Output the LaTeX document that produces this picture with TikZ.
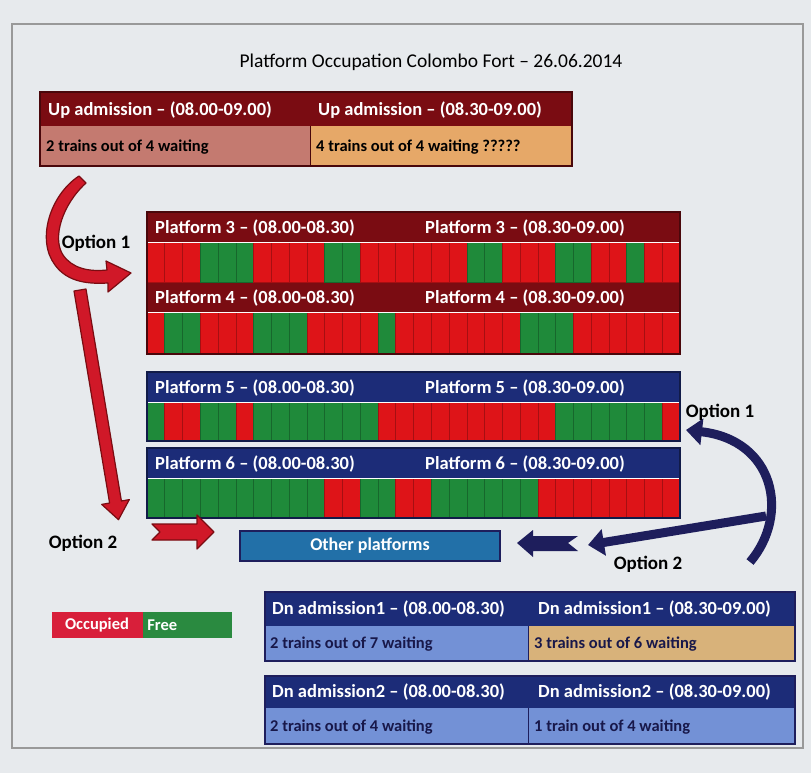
\documentclass[tikz,border=0pt]{standalone}
\usepackage{fontspec}
\setmainfont{Carlito}
\usepackage{tikz}
\usetikzlibrary{positioning, calc, arrows.meta}
\definecolor{sfondo}{HTML}{E7EAED}
\definecolor{rossoscuro}{HTML}{7A0C12}
\definecolor{bluscuro}{HTML}{1C2C78}
\definecolor{cellR}{HTML}{DE1418}
\definecolor{cellG}{HTML}{1F8A3A}
\definecolor{rosa}{HTML}{C47A70}
\definecolor{arancio}{HTML}{E6A868}
\definecolor{celeste}{HTML}{7391D6}
\definecolor{sabbia}{HTML}{D8B27A}
\definecolor{bluastro}{HTML}{2270A8}
\definecolor{navy}{HTML}{1E1E5C}
\definecolor{rossofr}{HTML}{D01828}
\definecolor{occ}{HTML}{D81F3A}
\definecolor{lib}{HTML}{2A8A40}

\begin{document}
\begin{tikzpicture}[x=1pt, y=-1pt,
    intest/.style={text=white, font=\fontsize{18.5}{20}\selectfont\bfseries, anchor=west, inner sep=0pt},
    testo/.style={font=\fontsize{16.5}{18}\selectfont\bfseries, anchor=west, inner sep=0pt},
    etich/.style={font=\fontsize{19}{20}\selectfont\bfseries, inner sep=0pt},
    freccia/.style={fill=rossofr, draw=rossoscuro, line width=1.2pt, line join=round}]
    % Parametri
    \pgfmathsetmacro{\xs}{147}
    \pgfmathsetmacro{\xd}{680}
    \pgfmathsetmacro{\cw}{(\xd-\xs)/30}
    % Sfondo
    \fill[sfondo] (0,0) rectangle (811,773);
    \draw[gray!80, line width=1.5pt] (12,24) rectangle (803,748);
    \node[font=\fontsize{19.5}{22}\selectfont] (titolo) at (431,62) {Platform Occupation Colombo Fort – 26.06.2014};
    % Up admission
    \fill[rossoscuro] (40,92) rectangle (572,126);
    \fill[rosa] (40,126) rectangle (310,166);
    \fill[arancio] (310,126) rectangle (572,166);
    \draw[rossoscuro!60!black] (310,126) -- (310,166);
    \draw[rossoscuro!60!black, line width=1.5pt] (40,92) rectangle (572,166);
    \node[intest] (up1) at (48,110) {Up admission – (08.00-09.00)};
    \node[intest] (up2) at (318,110) {Up admission – (08.30-09.00)};
    \node[testo] (upw1) at (46,147) {2 trains out of 4 waiting};
    \node[testo] (upw2) at (316,147) {4 trains out of 4 waiting ?????};
    % Piattaforme 3 e 4
    \fill[rossoscuro] (\xs,212) rectangle (\xd,242);
    \fill[rossoscuro] (\xs,282) rectangle (\xd,312);
    \foreach \c [count=\i] in {R,R,R,G,G,G,R,R,R,R,G,G,R,R,R,R,R,R,G,G,R,R,R,G,G,R,R,G,R,R}{
        \filldraw[fill=cell\c, draw=cell\c!75!black, line width=0.6pt] ({\xs+(\i-1)*\cw},242) rectangle ({\xs+\i*\cw},282);
    }
    \foreach \c [count=\i] in {R,G,G,R,R,R,G,G,G,R,R,R,R,G,R,R,R,R,R,R,R,G,G,G,R,R,R,R,R,R}{
        \filldraw[fill=cell\c, draw=cell\c!75!black, line width=0.6pt] ({\xs+(\i-1)*\cw},312) rectangle ({\xs+\i*\cw},354);
    }
    \draw[white, line width=1pt] (\xs,242) -- (\xd,242) (\xs,312) -- (\xd,312);
    \draw[rossoscuro!60!black, line width=1.5pt] (\xs,212) rectangle (\xd,354);
    \node[intest] (p3a) at (155,228) {Platform 3 – (08.00-08.30)};
    \node[intest] (p3b) at (425,228) {Platform 3 – (08.30-09.00)};
    \node[intest] (p4a) at (155,298) {Platform 4 – (08.00-08.30)};
    \node[intest] (p4b) at (425,298) {Platform 4 – (08.30-09.00)};
    % Piattaforme 5 e 6
    \fill[bluscuro] (\xs,372) rectangle (\xd,402);
    \fill[bluscuro] (\xs,448) rectangle (\xd,478);
    \foreach \c [count=\i] in {G,R,R,G,G,R,G,G,G,G,G,G,G,R,R,R,R,R,R,R,R,R,R,G,G,G,G,G,G,R}{
        \filldraw[fill=cell\c, draw=cell\c!75!black, line width=0.6pt] ({\xs+(\i-1)*\cw},402) rectangle ({\xs+\i*\cw},441);
    }
    \foreach \c [count=\i] in {G,G,G,G,G,G,G,G,G,G,R,R,G,G,R,R,G,G,G,G,G,G,R,R,R,R,R,R,R,R}{
        \filldraw[fill=cell\c, draw=cell\c!75!black, line width=0.6pt] ({\xs+(\i-1)*\cw},478) rectangle ({\xs+\i*\cw},518);
    }
    \draw[white, line width=1pt] (\xs,402) -- (\xd,402) (\xs,478) -- (\xd,478);
    \draw[bluscuro!60!black, line width=1.5pt] (\xs,372) rectangle (\xd,441);
    \draw[bluscuro!60!black, line width=1.5pt] (\xs,448) rectangle (\xd,518);
    \node[intest] (p5a) at (155,388) {Platform 5 – (08.00-08.30)};
    \node[intest] (p5b) at (425,388) {Platform 5 – (08.30-09.00)};
    \node[intest] (p6a) at (155,464) {Platform 6 – (08.00-08.30)};
    \node[intest] (p6b) at (425,464) {Platform 6 – (08.30-09.00)};
    % Altre piattaforme
    \node[draw=navy, line width=1.2pt, fill=bluastro, minimum width=260pt, minimum height=30pt, text=white,
          font=\fontsize{18}{20}\selectfont\bfseries] (altre) at (370,546) {Other platforms};
    % Legenda
    \node[fill=occ, minimum width=91pt, minimum height=26pt, inner sep=0pt, text=white, font=\fontsize{16.5}{18}\selectfont\bfseries] (occupato) at (97,625) {Occupied};
    \node[fill=lib, right=0pt of occupato, minimum height=26pt, text width=80pt, inner xsep=4.5pt, inner ysep=0pt, text=white, font=\fontsize{16.5}{18}\selectfont\bfseries] (libero) {Free};
    % Dn admission
    \fill[bluscuro] (265,592) rectangle (795,626);
    \fill[celeste] (265,626) rectangle (528,661);
    \fill[sabbia] (528,626) rectangle (795,661);
    \draw[navy] (528,626) -- (528,661);
    \draw[navy, line width=1.5pt] (265,592) rectangle (795,661);
    \node[intest] (dn1a) at (272,609) {Dn admission1 – (08.00-08.30)};
    \node[intest] (dn1b) at (538,609) {Dn admission1 – (08.30-09.00)};
    \node[testo, text=navy!80!black] (dnw1a) at (270,644) {2 trains out of 7 waiting};
    \node[testo, text=navy!80!black] (dnw1b) at (534,644) {3 trains out of 6 waiting};
    \fill[bluscuro] (265,676) rectangle (795,708);
    \fill[celeste] (265,708) rectangle (795,744);
    \draw[navy] (528,708) -- (528,744);
    \draw[navy, line width=1.5pt] (265,676) rectangle (795,744);
    \node[intest] (dn2a) at (272,692) {Dn admission2 – (08.00-08.30)};
    \node[intest] (dn2b) at (538,692) {Dn admission2 – (08.30-09.00)};
    \node[testo, text=navy!80!black] (dnw2a) at (270,727) {2 trains out of 4 waiting};
    \node[testo, text=navy!80!black] (dnw2b) at (534,727) {1 train out of 4 waiting};
    % Frecce rosse
    \filldraw[freccia] (79,176) .. controls (50,195) and (36,240) .. (55,265)
        .. controls (68,283) and (90,284) .. (108,283) -- (108,292) -- (131,273) -- (106,261) -- (107,270)
        .. controls (88,272) and (72,268) .. (63,255) .. controls (52,238) and (62,205) .. (86,183) -- cycle;
    \filldraw[freccia] (74,291) -- (86,289) -- (121.4,501) -- (129.3,499.6) -- (118.5,519.7)
        -- (101.7,504.4) -- (109.6,503) -- cycle;
    \filldraw[freccia] (152,524) -- (197,524) -- (197,515) -- (214,532) -- (197,549) -- (197,540)
        -- (152,540) -- (160,532) -- cycle;
    \node[etich] (opz1s) at (96,243) {Option 1};
    \node[etich] (opz2s) at (83,543) {Option 2};
    % Frecce blu
    \draw[navy, line width=9pt, -{Triangle[width=26pt, length=16pt]}] (750,562) .. controls (790,515) and (775,440) .. (686,430);
    \draw[navy, line width=9pt, -{Triangle[width=26pt, length=16pt]}] (766,516) -- (588,545);
    \fill[navy] (517,543) -- (533,530) -- (533,536) -- (578,536) -- (568,543) -- (578,551) -- (533,551)
        -- (533,557) -- cycle;
    \node[etich] (opz1d) at (720,412) {Option 1};
    \node[etich] (opz2d) at (648,564) {Option 2};
\end{tikzpicture}
\end{document}
